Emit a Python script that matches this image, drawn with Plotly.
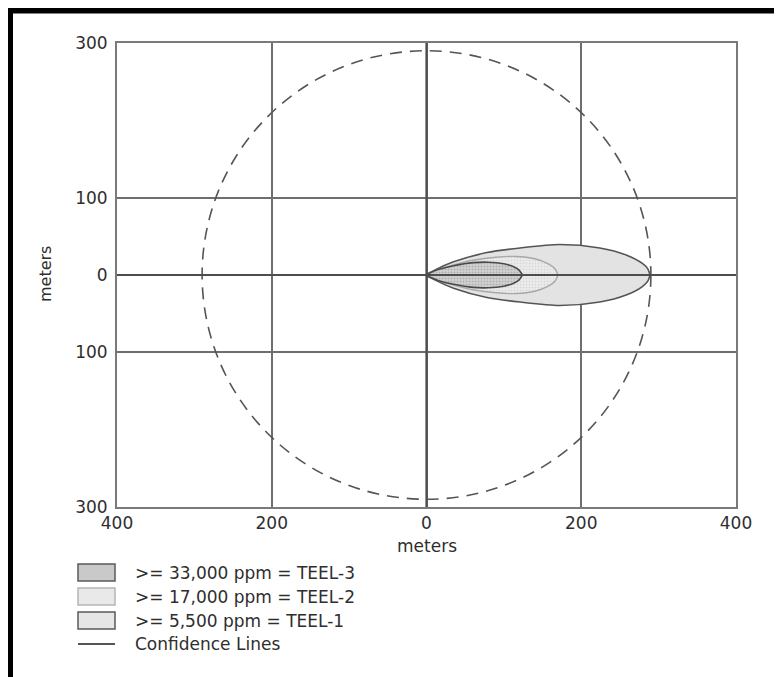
import plotly.graph_objects as go

# ---- data (meters) ----
teel1_x = [0, 10, 35, 78, 121, 172, 224, 258, 279, 286, 289]
teel1_hw = [0, 6, 17, 29, 35, 39.5, 35, 26, 15, 8, 0]
teel2_x = [0, 10, 35, 60, 90, 115, 140, 158, 166, 170]
teel2_hw = [0, 5, 13, 19, 23, 24, 21, 14, 8, 0]
teel3_x = [0, 5, 15, 35, 60, 80, 100, 112, 119, 124]
teel3_hw = [0, 3, 7, 12, 16, 16.5, 14.5, 11, 7, 0]
circle_radius = 290

x_tickvals = [-400, -200, 0, 200, 400]
x_ticktext = ["400", "200", "0", "200", "400"]
y_tickvals = [-300, -100, 0, 100, 300]
y_ticktext = ["300", "100", "0", "100", "300"]

legend_labels = [">= 33,000 ppm = TEEL-3", ">= 17,000 ppm = TEEL-2",
                 ">= 5,500 ppm = TEEL-1", "Confidence Lines"]

# ---- layout geometry (page pixels; page body has an 8px margin) ----
OFF = 8
W, H = 782 - OFF, 677 - OFF
L, R, T, B = 117, 736, 43, 507   # plot area in page pixels
FONT = "DejaVu Sans"
TXT = "#2e2e2e"


def px(xp):
    return (xp - L) / (R - L)


def py(yp):
    return (B - yp) / (B - T)


def outline(xs, hw):
    ox = list(xs) + list(reversed(xs))
    oy = list(hw) + [-v for v in reversed(hw)]
    return ox, oy


fig = go.Figure()

x1, y1 = outline(teel1_x, teel1_hw)
fig.add_trace(go.Scatter(x=x1, y=y1, mode="lines", fill="toself",
                         fillcolor="#e3e3e3",
                         line=dict(color="#555555", width=1.6, shape="spline", smoothing=0.8),
                         showlegend=False, hoverinfo="skip"))
x2, y2 = outline(teel2_x, teel2_hw)
fig.add_trace(go.Scatter(x=x2, y=y2, mode="lines", fill="toself",
                         fillcolor="#ebebeb",
                         fillpattern=dict(shape=".", fgcolor="#c4c4c4", bgcolor="#ececec",
                                          size=3, solidity=0.3),
                         line=dict(color="#a8a8a8", width=1.4, shape="spline", smoothing=0.8),
                         showlegend=False, hoverinfo="skip"))
x3, y3 = outline(teel3_x, teel3_hw)
fig.add_trace(go.Scatter(x=x3, y=y3, mode="lines", fill="toself",
                         fillcolor="#cfcfcf",
                         fillpattern=dict(shape=".", fgcolor="#8c8c8c", bgcolor="#d2d2d2",
                                          size=3, solidity=0.35),
                         line=dict(color="#4a4a4a", width=1.6, shape="spline", smoothing=0.8),
                         showlegend=False, hoverinfo="skip"))

shapes = []
# dashed confidence circle
shapes.append(dict(type="circle", xref="x", yref="y",
                   x0=-circle_radius, x1=circle_radius, y0=-circle_radius, y1=circle_radius,
                   line=dict(color="#555555", width=1.6, dash="12px,8px"), layer="above"))
# axes through origin drawn above the plumes
shapes.append(dict(type="line", xref="paper", yref="y", x0=0, x1=1, y0=0, y1=0,
                   line=dict(color="#4d4d4d", width=2.2), layer="above"))
shapes.append(dict(type="line", xref="x", yref="paper", x0=0, x1=0, y0=0, y1=1,
                   line=dict(color="#4d4d4d", width=2.2), layer="above"))

# outer black frame (top and left visible)
shapes.append(dict(type="rect", xref="paper", yref="paper",
                   x0=px(7), x1=px(790), y0=py(8), y1=py(13.5),
                   fillcolor="black", line=dict(width=0), layer="above"))
shapes.append(dict(type="rect", xref="paper", yref="paper",
                   x0=px(7), x1=px(13), y0=py(8), y1=py(690),
                   fillcolor="black", line=dict(width=0), layer="above"))

# manual legend swatches
sw_x0, sw_x1 = 78, 115
rows = [(564, 581), (588, 605), (612, 629)]
sw_fill = ["#c9c9c9", "#e9e9e9", "#e6e6e6"]
sw_line = ["#5a5a5a", "#b5b5b5", "#5a5a5a"]
for (ya, yb), fc, lc in zip(rows, sw_fill, sw_line):
    shapes.append(dict(type="rect", xref="paper", yref="paper",
                       x0=px(sw_x0), x1=px(sw_x1), y0=py(ya), y1=py(yb),
                       fillcolor=fc, line=dict(color=lc, width=1.5), layer="above"))
shapes.append(dict(type="line", xref="paper", yref="paper",
                   x0=px(sw_x0), x1=px(sw_x1), y0=py(644), y1=py(644),
                   line=dict(color="#555555", width=2.2), layer="above"))

annotations = []
row_centers = [572.5, 596.5, 620.5, 644]
for lbl, yc in zip(legend_labels, row_centers):
    annotations.append(dict(text=lbl, xref="paper", yref="paper", x=px(133), y=py(yc),
                            xanchor="left", yanchor="middle", showarrow=False,
                            font=dict(family=FONT, size=17, color=TXT)))
# axis titles
annotations.append(dict(text="meters", xref="paper", yref="paper", x=px(427), y=py(546),
                        xanchor="center", yanchor="middle", showarrow=False,
                        font=dict(family=FONT, size=17, color=TXT)))
annotations.append(dict(text="meters", xref="paper", yref="paper", x=px(45), y=py(274),
                        xanchor="center", yanchor="middle", showarrow=False, textangle=-90,
                        font=dict(family=FONT, size=16, color=TXT)))

axis_common = dict(showgrid=True, gridcolor="#6e6e6e", gridwidth=1.5,
                   zeroline=False, showline=True, linecolor="#7a7a7a", linewidth=2,
                   mirror=True, ticks="", fixedrange=True,
                   tickfont=dict(family=FONT, size=17, color=TXT))

fig.update_layout(
    width=W, height=H,
    margin=dict(l=L - OFF, r=W - (R - OFF), t=T - OFF, b=H - (B - OFF)),
    paper_bgcolor="white", plot_bgcolor="white",
    showlegend=False,
    xaxis=dict(range=[-400, 400], tickvals=x_tickvals, ticktext=x_ticktext,
               ticklabelstandoff=0, **axis_common),
    yaxis=dict(range=[-300, 300], tickvals=y_tickvals, ticktext=y_ticktext,
               ticklabelstandoff=4, **axis_common),
    shapes=shapes,
    annotations=annotations,
)

fig.write_html("out.html")
